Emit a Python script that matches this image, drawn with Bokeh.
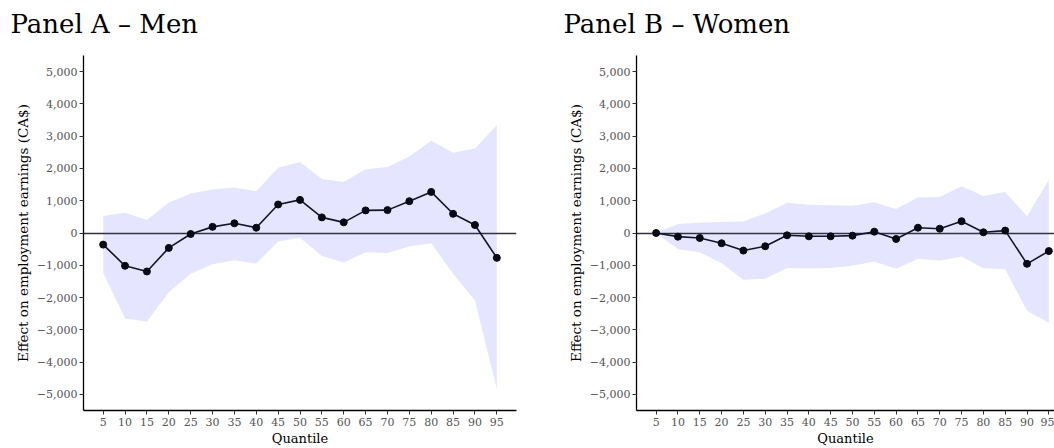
from bokeh.plotting import figure
from bokeh.layouts import row
from bokeh.models import Range1d, FixedTicker, ColumnDataSource, Title
from bokeh.embed import file_html
from bokeh.resources import INLINE

quantiles = [5, 10, 15, 20, 25, 30, 35, 40, 45, 50, 55, 60, 65, 70, 75, 80, 85, 90, 95]

men_est = [-360, -1017, -1192, -462, -31, 190, 300, 163, 884, 1026, 484, 330, 700, 709, 986, 1273, 595, 247, -770]
men_upper = [524, 626, 400, 946, 1222, 1346, 1408, 1294, 2024, 2198, 1674, 1581, 1972, 2044, 2373, 2856, 2486, 2619, 3338]
men_lower = [-1243, -2650, -2743, -1839, -1263, -966, -842, -945, -267, -144, -709, -914, -596, -616, -421, -318, -1260, -2080, -4830]

women_est = [0, -113, -154, -318, -545, -411, -72, -103, -103, -82, 41, -185, 164, 133, 365, 21, 75, -955, -560]
women_upper = [0, 277, 318, 339, 360, 607, 934, 872, 863, 841, 955, 740, 1100, 1119, 1448, 1150, 1273, 520, 1640]
women_lower = [0, -502, -596, -934, -1448, -1418, -1088, -1099, -1088, -1017, -884, -1109, -801, -863, -725, -1095, -1125, -2410, -2784]

y_ticks = [-5000, -4000, -3000, -2000, -1000, 0, 1000, 2000, 3000, 4000, 5000]
y_tick_labels = ["\u22125,000", "\u22124,000", "\u22123,000", "\u22122,000", "\u22121,000", "0",
                 "1,000", "2,000", "3,000", "4,000", "5,000"]

titles = ["Panel A \u2013 Men", "Panel B \u2013 Women"]
x_label = "Quantile"
y_label = "Effect on employment earnings (CA$)"

FONT = "DejaVu Serif"


def make_panel(title, est, lower, upper, width, border_left, border_right, x_end):
    p = figure(width=width, height=448, output_backend="svg", toolbar_location=None,
               title=None,
               x_range=Range1d(0.5, x_end), y_range=Range1d(-5500, 5500),
               min_border_left=border_left, min_border_right=border_right,
               min_border_top=55, min_border_bottom=38)
    # blank spacer between the frame and the panel title
    p.add_layout(Title(text=" ", text_font=FONT, text_font_size="13px", standoff=0), "above")
    p.add_layout(Title(text=title, text_font=FONT, text_font_size="26px",
                       text_font_style="normal", text_color="black",
                       align="left", offset=-73, standoff=0), "above")
    p.outline_line_color = None
    p.grid.visible = False
    p.background_fill_color = "white"
    p.border_fill_color = "white"

    src = ColumnDataSource(dict(q=quantiles, est=est, lo=lower, hi=upper))
    p.varea(x="q", y1="lo", y2="hi", source=src, fill_color="#E5E5FF")
    p.hspan(y=0, line_color="#333340", line_width=1.6)
    p.line(x="q", y="est", source=src, line_color="#141428", line_width=1.6)
    p.scatter(x="q", y="est", source=src, size=7, fill_color="#0a0a14", line_color="#0a0a14")

    for ax in (p.xaxis[0], p.yaxis[0]):
        ax.axis_line_color = "black"
        ax.axis_line_width = 1.3
        ax.major_tick_line_color = "#333333"
        ax.major_tick_out = 4
        ax.major_tick_in = 0
        ax.minor_tick_line_color = None
        ax.major_label_text_font = FONT
        ax.major_label_text_font_size = "11px"
        ax.major_label_text_color = "#555555"
        ax.axis_label_text_font = FONT
        ax.axis_label_text_font_style = "normal"
        ax.axis_label_text_color = "black"

    p.xaxis.ticker = FixedTicker(ticks=quantiles)
    p.xaxis.axis_label = x_label
    p.xaxis.axis_label_text_font_size = "13px"
    p.xaxis.axis_label_standoff = 2
    p.xaxis.major_label_standoff = 3

    p.yaxis.ticker = FixedTicker(ticks=y_ticks)
    p.yaxis.major_label_overrides = dict(zip(y_ticks, y_tick_labels))
    p.yaxis.axis_label = y_label
    p.yaxis.axis_label_text_font_size = "13.5px"
    p.yaxis.axis_label_standoff = 3
    p.yaxis.major_label_standoff = 2
    return p


pA = make_panel(titles[0], men_est, men_lower, men_upper, 552, 83, 36, 99.5)
pB = make_panel(titles[1], women_est, women_lower, women_upper, 502, 84, 0, 96.3)

layout = row(pA, pB)
open("out.html", "w").write(file_html(layout, INLINE))
